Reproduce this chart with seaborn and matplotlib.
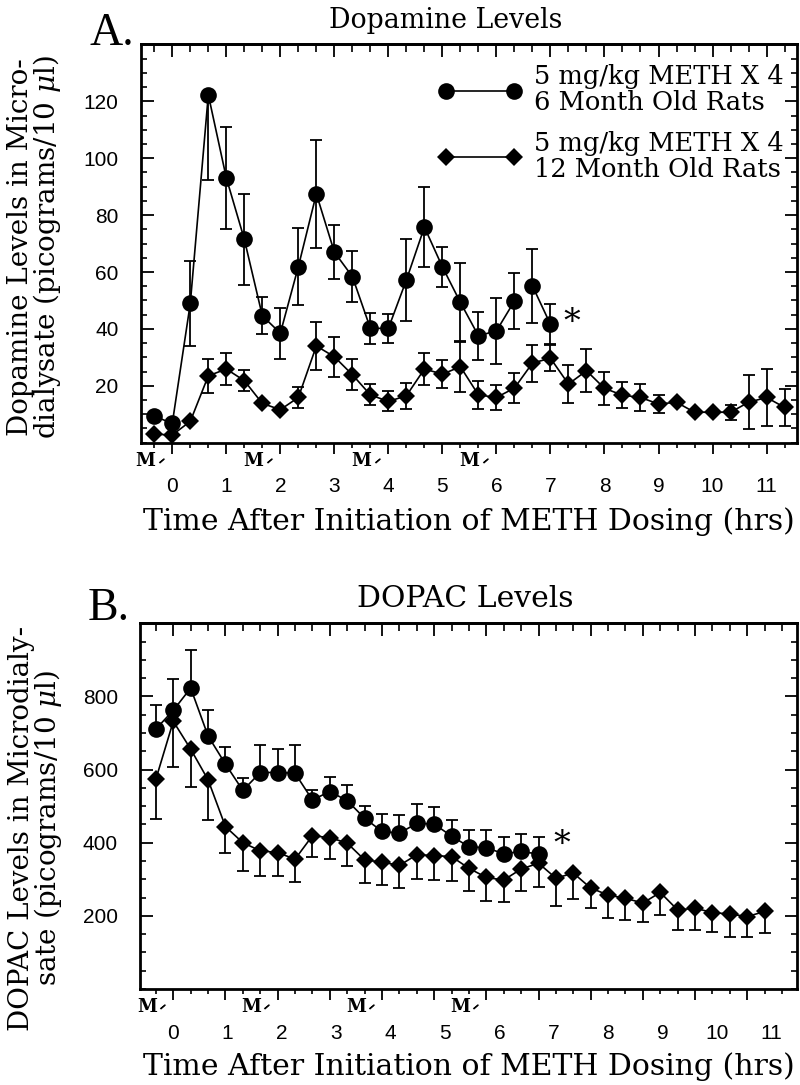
import numpy as np
import pandas as pd
import matplotlib
matplotlib.use("Agg")
import matplotlib.pyplot as plt
import matplotlib.transforms as mtransforms
from matplotlib.lines import Line2D
from matplotlib.ticker import MultipleLocator, FixedLocator
import seaborn as sns

# sampling times (minutes after first METH injection), one sample every 20 min
minutes_12mo = [-20, 0, 20, 40, 60, 80, 100, 120, 140, 160, 180, 200, 220, 240, 260, 280, 300, 320,
                340, 360, 380, 400, 420, 440, 460, 480, 500, 520, 540, 560, 580, 600, 620, 640, 660, 680]
minutes_6mo = minutes_12mo[:23]
dose_hours = [0, 2, 4, 6]
hour_labels = list(range(0, 12))

# panel A: dopamine (pg / 10 ul)
da_6mo = [9.3, 6.8, 49, 122.3, 93.1, 71.5, 44.6, 38.5, 61.9, 87.5, 67, 58.4, 40.2, 40.2, 57.2,
          75.8, 61.8, 49.3, 37.6, 39.3, 49.8, 55.1, 41.6]
da_6mo_sem = [0, 0, 15, 30, 18, 16, 6.5, 9, 13.5, 19, 9.5, 9, 5.5, 5, 14.5, 14, 7, 14, 8.5, 11.5,
              10, 13, 7]
da_6mo_run = [0] * 21 + [1] * 2   # line is broken between 6h20 and 6h40
da_12mo = [3, 2.7, 7.5, 23.5, 25.9, 21.8, 13.8, 11.6, 15.9, 34, 30.2, 23.9, 16.8, 14.5, 16.5, 25.9,
           24.1, 26.7, 16.8, 15.9, 19.2, 28, 29.7, 20.6, 25.3, 19.1, 16.7, 15.9, 13.6, 14.2, 10.7,
           10.7, 10.7, 14.2, 15.9, 12.4]
da_12mo_sem = [0, 0, 0, 6, 5.5, 3.7, 0, 0, 3.8, 8.3, 7, 5.5, 3.7, 3.5, 4.5, 5.7, 4.8, 9, 5, 4.4,
               5.2, 6.5, 4.5, 6.7, 7.6, 5.7, 4.5, 4.8, 3, 0, 0, 0, 2.7, 9.5, 10, 6.4]

# panel B: DOPAC (pg / 10 ul)
dp_6mo = [711, 762, 823, 692, 615, 543, 592, 592, 590, 517, 540, 515, 467, 431, 426, 453, 451, 418,
          389, 386, 370, 376, 369]
dp_6mo_sem = [67, 85, 105, 71, 47, 34, 76, 64, 76, 26, 41, 43, 34, 48, 50, 53, 47, 45, 46, 49, 46,
              47, 48]
dp_12mo = [574, 732, 656, 572, 444, 400, 378, 373, 355, 419, 414, 399, 353, 347, 338, 367, 365, 362,
           330, 305, 298, 328, 344, 303, 317, 276, 257, 248, 235, 264, 216, 221, 209, 205, 198, 212]
dp_12mo_sem = [109, 125, 104, 109, 71, 77, 68, 64, 63, 57, 59, 64, 62, 64, 61, 66, 66, 66, 62, 64,
               59, 59, 66, 76, 71, 55, 64, 59, 53, 61, 55, 61, 52, 64, 56, 59]

legend_labels = ["5 mg/kg METH X 4\n6 Month Old Rats", "5 mg/kg METH X 4\n12 Month Old Rats"]
xlabel = "Time After Initiation of METH Dosing (hrs)"

sns.set_style("ticks")
plt.rcParams["font.family"] = ["DejaVu Serif", "DejaVu Sans"]
plt.rcParams["mathtext.fontset"] = "dejavuserif"
plt.rcParams.update({"text.color": "black", "axes.labelcolor": "black", "axes.edgecolor": "black",
                     "xtick.color": "black", "ytick.color": "black"})

SERIF = ["DejaVu Serif", "DejaVu Sans"]
FS_LEG = 18.5
FS_XLAB = 21.5
FS_YLAB = 20
DIAMOND = 9.5
CIRCLE = 12


def draw_series(ax, minutes, values, sem, marker, ms, run=None, direction="both", ytop=None):
    h = np.array(minutes) / 60
    v = np.array(values, dtype=float)
    e = np.array(sem, dtype=float)
    df = pd.DataFrame({"h": h, "v": v, "run": run if run is not None else [0] * len(v)})
    sns.lineplot(data=df, x="h", y="v", units="run", estimator=None, sort=False, color="black",
                 lw=1.2, marker=marker, markersize=ms, markeredgewidth=0, legend=False, ax=ax)
    lo = e if direction in ("both", "down") else np.zeros_like(e)
    hi = e if direction in ("both", "up") else np.zeros_like(e)
    if ytop is not None:
        hi = np.where(v + hi > ytop, 0, hi)
    keep = e > 0
    ax.errorbar(h[keep], v[keep], yerr=[lo[keep], hi[keep]], fmt="none", ecolor="black",
                elinewidth=1.3, capsize=4.6, capthick=1.3, zorder=3)


def style_axes(ax, xlim, ylim, yticks, yminor, label_stretch=None):
    ax.set_xlim(*xlim)
    ax.set_ylim(*ylim)
    for sp in ax.spines.values():
        sp.set_linewidth(2)
        sp.set_color("black")
        sp.set_visible(True)
    ax.xaxis.set_major_locator(FixedLocator(hour_labels))
    ax.xaxis.set_minor_locator(MultipleLocator(1 / 3))
    ax.tick_params(axis="x", which="both", direction="out", top=False, bottom=True, color="black")
    ax.tick_params(axis="x", which="major", length=8, width=1.3, pad=17, labelsize=15,
                   labelfontfamily="Liberation Sans", labelcolor="black")
    ax.tick_params(axis="x", which="minor", length=3.5, width=1.2)
    ax.yaxis.set_major_locator(FixedLocator(yticks))
    ax.yaxis.set_minor_locator(MultipleLocator(yminor))
    ax.tick_params(axis="y", which="both", direction="in", left=True, right=True, color="black")
    ax.tick_params(axis="y", which="major", length=9, width=1.3, pad=16, labelsize=15,
                   labelfontfamily="Liberation Sans", labelcolor="black")
    ax.tick_params(axis="y", which="minor", length=4.5, width=1.2)

    top = ax.secondary_xaxis("top")
    top.xaxis.set_major_locator(FixedLocator(hour_labels))
    top.xaxis.set_minor_locator(MultipleLocator(1 / 3))
    top.tick_params(axis="x", which="both", direction="in", labeltop=False, color="black")
    top.tick_params(axis="x", which="major", length=9, width=1.3)
    top.tick_params(axis="x", which="minor", length=6, width=1.2)
    top.spines["top"].set_linewidth(2)
    top.spines["top"].set_color("black")

    if label_stretch is not None:
        # hour labels of the original drift slightly from the ticks
        ax.tick_params(axis="x", which="major", labelbottom=False)
        lab = ax.secondary_xaxis("bottom", functions=(lambda x: x / label_stretch,
                                                      lambda x: x * label_stretch))
        lab.xaxis.set_major_locator(FixedLocator(hour_labels))
        lab.xaxis.set_minor_locator(FixedLocator([]))
        lab.tick_params(axis="x", which="major", length=0, pad=17 + 8, labelsize=15,
                        labelfontfamily="Liberation Sans", labelcolor="black")
        lab.spines["bottom"].set_visible(False)

    # injection markers under the axis
    fig = ax.figure
    base = mtransforms.blended_transform_factory(ax.transData, ax.transAxes)
    m_tr = base + mtransforms.ScaledTranslation(0, -0.18, fig.dpi_scale_trans)
    for d in dose_hours:
        ax.text(d - 0.5, 0, "M", transform=m_tr, ha="center", va="center", fontsize=13,
                fontweight="bold", family=SERIF, clip_on=False)
        ax.text(d - 0.2, 0, "\u2013", transform=m_tr, ha="center", va="center", fontsize=12,
                fontweight="bold", rotation=40, family=SERIF, clip_on=False)


fig = plt.figure(figsize=(8, 10.85), dpi=100)
axA = fig.add_axes([0.176, 0.592, 0.82, 0.367])
axB = fig.add_axes([0.175, 0.0885, 0.821, 0.337])

# ---- panel A
draw_series(axA, minutes_12mo, da_12mo, da_12mo_sem, "D", DIAMOND)
draw_series(axA, minutes_6mo, da_6mo, da_6mo_sem, "o", CIRCLE, run=da_6mo_run, ytop=140)
style_axes(axA, (-0.583, 11.56), (0, 140), [20, 40, 60, 80, 100, 120], 5)
axA.set_xlabel(xlabel, fontsize=FS_XLAB, family=SERIF)
axA.xaxis.set_label_coords(0.5, -0.162)
axA.set_ylabel("Dopamine Levels in Micro-\ndialysate (picograms/10 $\\mu$l)", fontsize=FS_YLAB,
               family=SERIF, linespacing=0.88)
axA.yaxis.set_label_coords(-0.118, 0.49)
axA.annotate("\u2217", xy=(minutes_6mo[-1] / 60, da_6mo[-1]), xytext=(15.6, 6),
             textcoords="offset points", ha="center", va="center", fontsize=24, family=SERIF)

handles = [Line2D([], [], color="black", lw=1.2, marker="o", markersize=CIRCLE, markeredgewidth=0),
           Line2D([], [], color="black", lw=1.2, marker="D", markersize=DIAMOND, markeredgewidth=0)]
leg = axA.legend(handles, legend_labels, loc="upper left", bbox_to_anchor=(0.454, 0.95),
                 frameon=False, numpoints=2, handlelength=3.25, handletextpad=0.45,
                 labelspacing=0.6, borderpad=0, borderaxespad=0,
                 prop={"family": SERIF, "size": FS_LEG})
for txt in leg.get_texts():
    txt.set_linespacing(1.05)

# ---- panel B
draw_series(axB, minutes_12mo, dp_12mo, dp_12mo_sem, "D", DIAMOND, direction="down")
draw_series(axB, minutes_6mo, dp_6mo, dp_6mo_sem, "o", CIRCLE, direction="up")
style_axes(axB, (-0.638, 11.95), (0, 1000), [200, 400, 600, 800], 50, label_stretch=1.042)
axB.set_xlabel(xlabel, fontsize=FS_XLAB, family=SERIF)
axB.xaxis.set_label_coords(0.5, -0.172)
axB.set_ylabel("DOPAC Levels in Microdialy-\nsate (picograms/10 $\\mu$l)", fontsize=FS_YLAB,
               family=SERIF, linespacing=0.88)
axB.yaxis.set_label_coords(-0.116, 0.44)
axB.annotate("\u2217", xy=(minutes_6mo[-1] / 60, dp_6mo[-1]), xytext=(17, 11.3),
             textcoords="offset points", ha="center", va="center", fontsize=24, family=SERIF)

fig.text(446 / 800, 1 - 28 / 1085, "Dopamine Levels", ha="center", va="baseline", fontsize=19.3,
         family=SERIF)
fig.text(465 / 800, 1 - 607 / 1085, "DOPAC Levels", ha="center", va="baseline", fontsize=21.5,
         family=SERIF)
fig.text(90 / 800, 1 - 45 / 1085, "A.", ha="left", va="baseline", fontsize=33,
         family=["Liberation Serif", "DejaVu Serif"])
fig.text(88 / 800, 1 - 620 / 1085, "B.", ha="left", va="baseline", fontsize=33,
         family=["Liberation Serif", "DejaVu Serif"])

fig.savefig("out.png", dpi=100)
